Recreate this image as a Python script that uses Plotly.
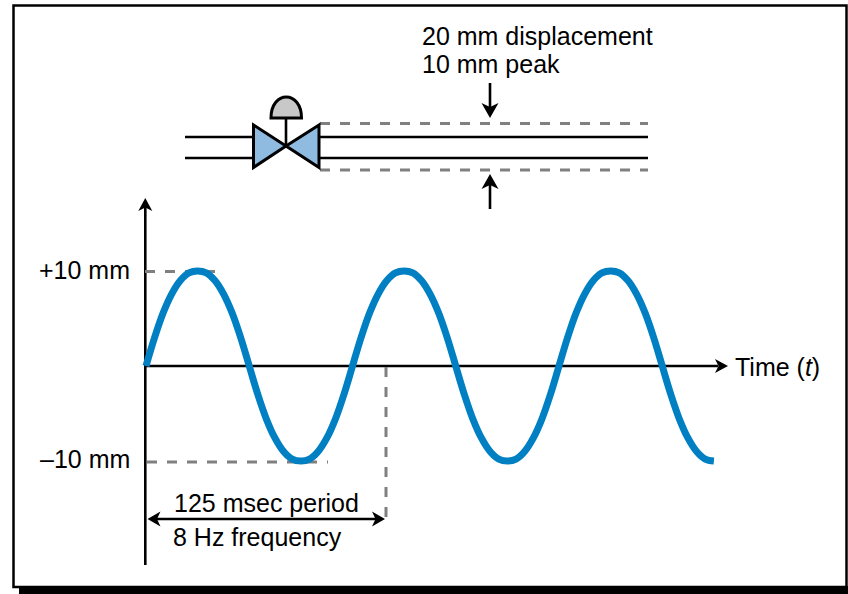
import plotly.graph_objects as go

# Series
time_ms = [0, 5.2, 10.4, 15.6, 20.8, 26, 31.3, 36.5, 41.7, 46.9, 52.1, 57.3,
           62.5, 67.7, 72.9, 78.1, 83.3, 88.5, 93.8, 99, 104.2, 109.4, 114.6, 119.8,
           125, 130.2, 135.4, 140.6, 145.8, 151, 156.3, 161.5, 166.7, 171.9, 177.1, 182.3,
           187.5, 192.7, 197.9, 203.1, 208.3, 213.5, 218.8, 224, 229.2, 234.4, 239.6, 244.8,
           250, 255.2, 260.4, 265.6, 270.8, 276, 281.3, 286.5, 291.7, 296.9, 302.1, 307.3,
           312.5, 317.7, 322.9, 328.1, 333.3, 338.5, 343.75]
displacement_mm = [0, 3, 5.6, 7.6, 9, 9.8, 10, 9.8, 9, 7.6, 5.6, 3,
                   0, -3, -5.6, -7.6, -9, -9.8, -10, -9.8, -9, -7.6, -5.6, -3,
                   0, 3, 5.6, 7.6, 9, 9.8, 10, 9.8, 9, 7.6, 5.6, 3,
                   0, -3, -5.6, -7.6, -9, -9.8, -10, -9.8, -9, -7.6, -5.6, -3,
                   0, 3, 5.6, 7.6, 9, 9.8, 10, 9.8, 9, 7.6, 5.6, 3,
                   0, -3, -5.6, -7.6, -9, -9.8, -10]
y_tick_labels = ["+10 mm", "–10 mm"]
x_label = "Time (<i>t</i>)"
period_labels = ["125 msec period", "8 Hz frequency"]
pipe_labels = ["20 mm displacement", "10 mm peak"]

W, H = 848, 594
X0, PX_PER_MS = 146, 1.652
Y0, PX_PER_MM = 366, 9.5
BLUE = "#0080C3"
GREY = "#808080"
FONT = "Liberation Sans"
FS = 25

fig = go.Figure()
fig.add_trace(go.Scatter(x=time_ms, y=displacement_mm, mode="lines",
                         line=dict(color=BLUE, width=7, shape="spline", smoothing=1),
                         hoverinfo="skip", showlegend=False))

shapes = []
def ln(x0, y0, x1, y1, color="black", width=2.6, dash=None):
    shapes.append(dict(type="line", xref="x2", yref="y2", x0=x0, y0=y0, x1=x1, y1=y1,
                       layer="below", line=dict(color=color, width=width, dash=dash)))
def poly(path, fill="black", color="black", width=0):
    shapes.append(dict(type="path", xref="x2", yref="y2", path=path, layer="below",
                       fillcolor=fill, line=dict(color=color, width=width)))
def head(tx, ty, dx, dy, L=13, hw=7.5, notch=3.5):
    # arrow head with tip at (tx,ty) pointing along (dx,dy)
    bx, by = tx - dx * L, ty - dy * L
    nx, ny = tx - dx * (L - notch), ty - dy * (L - notch)
    px, py = -dy * hw, dx * hw
    poly(f"M{tx},{ty} L{bx+px},{by+py} L{nx},{ny} L{bx-px},{by-py} Z")
DASH = "10px,10px"

# Frame and drop shadow
poly("M13.5,5.5 L846.5,5.5 L846.5,587 L13.5,587 Z", fill="white", width=2.5)
poly(f"M19,586 L{W},586 L{W},{H} L19,{H} Z")

# Pipe
ln(185, 137, 253, 137); ln(185, 158, 253, 158)
ln(319, 137, 648, 137); ln(319, 158, 648, 158)
ln(320, 123.5, 648, 123.5, GREY, 3, DASH); ln(320, 170, 648, 170, GREY, 3, DASH)
# Valve
poly("M253.5,125 L286,146 L253.5,167.5 Z", fill="#8FBBE1", width=3)
poly("M319,125 L286,146 L319,167.5 Z", fill="#8FBBE1", width=3)
ln(286, 118, 286, 146)
poly("M271,118 C271,90 301.5,90 301.5,118 Z", fill="#C8C8C8", width=3)
# Pipe arrows
ln(490, 83, 490, 108); head(490, 118, 0, 1, L=15, hw=8.5, notch=4)
ln(490, 209, 490, 184); head(490, 174, 0, -1, L=15, hw=8.5, notch=4)

# Axes
ln(145.3, 565, 145.3, 206); head(145.3, 198, 0, -1, L=13, hw=7)
ln(146, 366, 718, 366); head(728, 366, 1, 0, L=13, hw=7)
# Guides
ln(145, 271.5, 215, 271.5, GREY, 3, DASH)
ln(147, 462, 328, 462, GREY, 3, DASH)
ln(386, 367, 386, 519, GREY, 3, DASH)
# Period arrow
ln(155, 519, 378, 519); head(147.5, 519, -1, 0); head(385, 519, 1, 0)

def text(x, y, s, anchor="left"):
    return dict(xref="x2", yref="y2", x=x, y=y, text=s, showarrow=False, xanchor=anchor, yanchor="middle",
                font=dict(family=FONT, size=FS, color="black"), borderpad=0, borderwidth=0)

annotations = [
    text(422, 36, pipe_labels[0]), text(422, 64, pipe_labels[1]),
    text(130, 270, y_tick_labels[0], "right"), text(130, 459, y_tick_labels[1], "right"),
    text(735, 367, x_label),
    text(174, 503, period_labels[0]), text(173, 537, period_labels[1]),
]

fig.update_layout(
    width=W, height=H, margin=dict(l=0, r=0, t=0, b=0), autosize=False,
    paper_bgcolor="white", plot_bgcolor="rgba(0,0,0,0)", showlegend=False,
    xaxis=dict(range=[(0 - X0) / PX_PER_MS, (W - X0) / PX_PER_MS], visible=False, domain=[0, 1], fixedrange=True),
    yaxis=dict(range=[(Y0 - H) / PX_PER_MM, Y0 / PX_PER_MM], visible=False, domain=[0, 1], fixedrange=True),
    xaxis2=dict(range=[0, W], visible=False, overlaying="x", anchor="y2", fixedrange=True),
    yaxis2=dict(range=[H, 0], visible=False, overlaying="y", anchor="x2", fixedrange=True),
    shapes=shapes, annotations=annotations,
)
fig.add_trace(go.Scatter(x=[0, W], y=[0, H], xaxis="x2", yaxis="y2", mode="markers",
                         marker=dict(opacity=0), hoverinfo="skip", showlegend=False))
fig.write_html("out.html", config=dict(displayModeBar=False),
               post_script="document.body.style.margin='0';document.documentElement.style.overflow='hidden';")
